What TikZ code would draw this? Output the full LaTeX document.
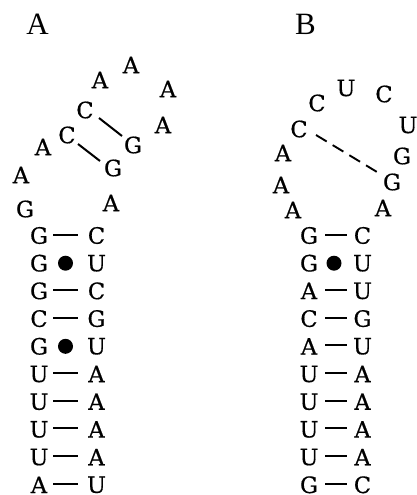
\documentclass[tikz,border=0pt]{standalone}
\usepackage{fontspec}
\newfontfamily\basefont{DejaVu Serif}[FakeBold=0.6]
\newfontfamily\labelfont{Liberation Serif}
\begin{document}
\begin{tikzpicture}[x=1pt,y=-1pt,
  base/.style={inner sep=0pt,font=\basefont\fontsize{22.5}{22.5}\selectfont},
  panel/.style={inner sep=0pt,font=\labelfont\fontsize{31}{31}\selectfont},
  bond/.style={line width=2pt},
  dbond/.style={line width=1.9pt,dash pattern=on 12.5pt off 7pt},
  gu/.style={circle,fill=black,inner sep=0pt,minimum size=15pt}]
\useasboundingbox (0,0) rectangle (416,495);
% panel labels
\node[panel] (labA) at (37.5,24) {A};
\node[panel] (labB) at (305.5,24) {B};
% ---- panel A loop
\node[base] (a1) at (100,80) {A};
\node[base] (a2) at (131,65) {A};
\node[base] (a3) at (168,89) {A};
\node[base] (a4) at (163,125) {A};
\node[base] (ac1) at (85,110) {C};
\node[base] (ac2) at (67,135) {C};
\node[base] (ag1) at (133,145) {G};
\node[base] (ag2) at (113,168) {G};
\node[base] (a5) at (43,147) {A};
\node[base] (a6) at (21,175) {A};
\node[base] (ag3) at (25,209) {G};
\node[base] (a7) at (111,203) {A};
\coordinate (l1s) at (99,118); \coordinate (l1e) at (122,136);
\coordinate (l2s) at (78,144); \coordinate (l2e) at (100,161);
\draw[bond] (l1s) -- (l1e);
\draw[bond] (l2s) -- (l2e);
% ---- panel A stem
\foreach \i/\l/\r/\t in {0/G/C/w,1/G/U/g,2/G/C/w,3/C/G/w,4/G/U/g,5/U/A/w,6/U/A/w,7/U/A/w,8/U/A/w,9/A/U/w}{
  \pgfmathsetmacro{\yy}{235.5+27.7*\i}
  \pgfmathsetmacro{\yd}{round(\yy)-1}
  \node[base] (AL\i) at (39,\yy) {\l};
  \node[base] (AR\i) at (96.5,\yy) {\r};
  \if\t w
    \draw[bond] (53,\yd) -- (78,\yd);
  \else
    \node[gu] (AD\i) at (65.5,\yy) {};
  \fi
}
% ---- panel B loop
\node[base] (bc1) at (317,103) {C};
\node[base] (bu1) at (346,88) {U};
\node[base] (bc2) at (384,94) {C};
\node[base] (bu2) at (408,125) {U};
\node[base] (bc3) at (299,129) {C};
\node[base] (bg1) at (402,156) {G};
\node[base] (ba1) at (283,153) {A};
\node[base] (bg2) at (392,182) {G};
\node[base] (ba2) at (281,185) {A};
\node[base] (ba3) at (293,210) {A};
\node[base] (ba4) at (383,208) {A};
\coordinate (d1s) at (316,135); \coordinate (d1e) at (377,172);
\draw[dbond] (d1s) -- (d1e);
% ---- panel B stem
\foreach \i/\l/\r/\t in {0/G/C/w,1/G/U/g,2/A/U/w,3/C/G/w,4/A/U/w,5/U/A/w,6/U/A/w,7/U/A/w,8/U/A/w,9/G/C/w}{
  \pgfmathsetmacro{\yy}{235.5+27.7*\i}
  \pgfmathsetmacro{\yd}{round(\yy)-1}
  \node[base] (BL\i) at (309,\yy) {\l};
  \node[base] (BR\i) at (362.5,\yy) {\r};
  \if\t w
    \draw[bond] (325,\yd) -- (347,\yd);
  \else
    \node[gu] (BD\i) at (334,\yy) {};
  \fi
}
\end{tikzpicture}
\end{document}
